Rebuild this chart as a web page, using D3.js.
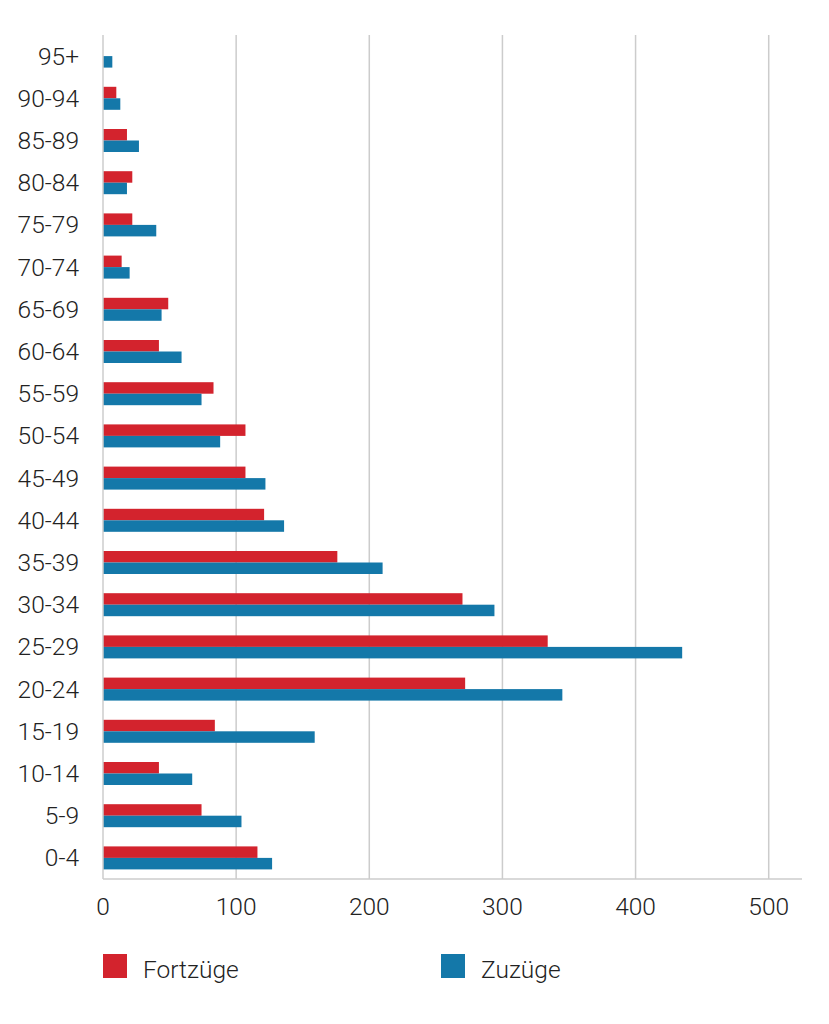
<!DOCTYPE html>
<html lang="de">
<head>
  <meta charset="utf-8">
  <title>Fortzüge und Zuzüge nach Alter</title>
  <script src="https://d3js.org/d3.v7.min.js"></script>
  <style>
    body { margin: 0; background: #fff; }
    text { font-family: Roboto, "Open Sans", sans-serif; font-weight: 300; fill: #222; }
  </style>
</head>
<body>
<script>
// age groups, bottom to top
var ageGroups = ['0-4', '5-9', '10-14', '15-19', '20-24', '25-29', '30-34', '35-39', '40-44',
  '45-49', '50-54', '55-59', '60-64', '65-69', '70-74', '75-79', '80-84', '85-89', '90-94', '95+'];
var fortzuege = [116, 74, 42, 84, 272, 334, 270, 176, 121, 107, 107, 83, 42, 49, 14, 22, 22, 18, 10, 0];
var zuzuege   = [127, 104, 67, 159, 345, 435, 294, 210, 136, 122, 88, 74, 59, 44, 20, 40, 18, 27, 13, 7];
var xTicks = [0, 100, 200, 300, 400, 500];
var seriesNames = ['Fortzüge', 'Zuzüge'];
var seriesColors = ['#d3232d', '#1478a9'];

var w = 829, h = 1024;
// note: "top" is taken by window.top, so plot edges get their own names
var plotLeft = 103, plotRight = 802, plotTop = 35, plotBottom = 879;

var svg = d3.select('body').append('svg')
  .attr('width', w)
  .attr('height', h);

// 0..500 sits between 103 and 769, the axis line runs on a bit further
var x = d3.scaleLinear().domain([0, 525]).range([plotLeft, plotRight]);

var y = d3.scaleBand()
  .domain(ageGroups)
  .range([plotBottom, plotTop])
  .paddingInner(0.455)
  .paddingOuter(0.2275);

var sub = d3.scaleBand()
  .domain(seriesNames)
  .range([0, y.bandwidth()]);

// grid lines
svg.append('g')
  .selectAll('line')
  .data(xTicks.slice(1))
  .enter().append('line')
  .attr('x1', function(d) { return x(d); })
  .attr('x2', function(d) { return x(d); })
  .attr('y1', plotTop)
  .attr('y2', plotBottom)
  .attr('stroke', '#cccccc')
  .attr('stroke-width', 1.5);

// bars
var rows = ageGroups.map(function(a, i) {
  return { age: a, values: [fortzuege[i], zuzuege[i]] };
});

var groups = svg.append('g').selectAll('g')
  .data(rows)
  .enter().append('g')
  .attr('transform', function(d) { return 'translate(0,' + y(d.age) + ')'; });

groups.selectAll('rect')
  .data(function(d) {
    return d.values.map(function(v, j) { return { name: seriesNames[j], value: v, j: j }; });
  })
  .enter().append('rect')
  .attr('x', x(0))
  .attr('y', function(d) { return sub(d.name); })
  .attr('width', function(d) { return x(d.value) - x(0); })
  .attr('height', sub.bandwidth())
  .attr('fill', function(d) { return seriesColors[d.j]; });

// axis lines
svg.append('line')
  .attr('x1', plotLeft).attr('x2', plotLeft)
  .attr('y1', plotTop).attr('y2', plotBottom)
  .attr('stroke', '#cccccc').attr('stroke-width', 1.5);

svg.append('line')
  .attr('x1', plotLeft).attr('x2', plotRight)
  .attr('y1', plotBottom).attr('y2', plotBottom)
  .attr('stroke', '#cccccc').attr('stroke-width', 1.5);

// category labels
svg.append('g')
  .selectAll('text')
  .data(ageGroups)
  .enter().append('text')
  .attr('x', 79)
  .attr('y', function(d) { return y(d) + y.bandwidth() / 2; })
  .attr('dy', '0.35em')
  .attr('text-anchor', 'end')
  .style('font-size', '24.5px')
  .text(function(d) { return d; });

// value labels
svg.append('g')
  .selectAll('text')
  .data(xTicks)
  .enter().append('text')
  .attr('x', function(d) { return x(d); })
  .attr('y', 915)
  .attr('text-anchor', 'middle')
  .style('font-size', '24.5px')
  .text(function(d) { return d; });

// legend
var legendX = [103, 441];
var legend = svg.append('g')
  .selectAll('g')
  .data(seriesNames)
  .enter().append('g')
  .attr('transform', function(d, i) { return 'translate(' + legendX[i] + ',954)'; });

legend.append('rect')
  .attr('width', 24)
  .attr('height', 24)
  .attr('fill', function(d, i) { return seriesColors[i]; });

legend.append('text')
  .attr('x', 40)
  .attr('y', 24)
  .style('font-size', '24.5px')
  .text(function(d) { return d; });
</script>
</body>
</html>
